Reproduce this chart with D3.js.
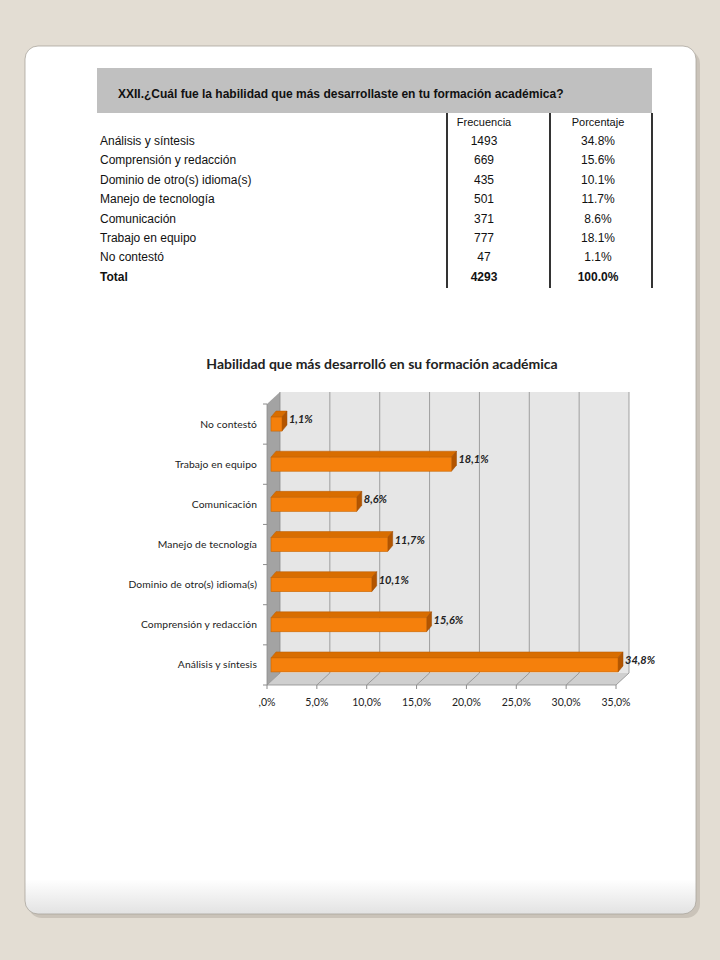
<!DOCTYPE html>
<html>
<head>
<meta charset="utf-8">
<script src="https://cdn.jsdelivr.net/npm/d3@7"></script>
<style>
  body { margin: 0; background: #e3ddd3; }
  svg { display: block; }
</style>
</head>
<body>
<div id="chart"></div>
<script>
var categories = ["Análisis y síntesis", "Comprensión y redacción", "Dominio de otro(s) idioma(s)",
  "Manejo de tecnología", "Comunicación", "Trabajo en equipo", "No contestó"];
var frecuencia = [1493, 669, 435, 501, 371, 777, 47];
var porcentaje = [34.8, 15.6, 10.1, 11.7, 8.6, 18.1, 1.1];
var totalFrec = 4293, totalPct = 100.0;
var xTicks = [0, 5, 10, 15, 20, 25, 30, 35];

var width = 720, height = 960;
var svg = d3.select("#chart").append("svg")
    .attr("width", width)
    .attr("height", height);

var defs = svg.append("defs");
var cardGrad = defs.append("linearGradient").attr("id", "cardGrad")
    .attr("x1", 0).attr("y1", 0).attr("x2", 0).attr("y2", 1);
cardGrad.append("stop").attr("offset", "0.96").attr("stop-color", "#ffffff");
cardGrad.append("stop").attr("offset", "1").attr("stop-color", "#e2e2e2");

// card
svg.append("rect").attr("x", 28).attr("y", 50).attr("width", 672).attr("height", 868)
    .attr("rx", 14).attr("fill", "#b9b2a8").attr("opacity", 0.6);
svg.append("rect").attr("x", 25).attr("y", 46).attr("width", 671).attr("height", 868)
    .attr("rx", 13).attr("fill", "url(#cardGrad)").attr("stroke", "#a9a49c").attr("stroke-width", 0.8);

// ---- table ----
var tbl = svg.append("g").style("font-family", "'Liberation Sans', Arial, sans-serif").style("font-size", "12px").attr("fill", "#111");
tbl.append("rect").attr("x", 97).attr("y", 68).attr("width", 555).attr("height", 45).attr("fill", "#c0c0c0");
tbl.append("text").attr("x", 118).attr("y", 98).style("font-weight", "bold").style("font-size", "12px")
    .text("XXII.¿Cuál fue la habilidad que más desarrollaste en tu formación académica?");

var colF = 484, colP = 598, rowH = 19.4, row0 = 145;
[447, 550, 652].forEach(function (x) {
  tbl.append("line").attr("x1", x).attr("x2", x).attr("y1", 113).attr("y2", 288)
      .attr("stroke", "#000").attr("stroke-width", 1.6);
});
tbl.append("text").attr("x", colF).attr("y", 126).attr("text-anchor", "middle").style("font-size", "11px").text("Frecuencia");
tbl.append("text").attr("x", colP).attr("y", 126).attr("text-anchor", "middle").style("font-size", "11px").text("Porcentaje");

var rows = tbl.selectAll(".row").data(categories).enter().append("g").attr("class", "row")
    .attr("transform", function (d, i) { return "translate(0," + (row0 + i * rowH) + ")"; });
rows.append("text").attr("x", 100).text(function (d) { return d; });
rows.append("text").attr("x", colF).attr("text-anchor", "middle").text(function (d, i) { return frecuencia[i]; });
rows.append("text").attr("x", colP).attr("text-anchor", "middle").text(function (d, i) { return porcentaje[i].toFixed(1) + "%"; });

var totY = row0 + categories.length * rowH;
tbl.append("text").attr("x", 100).attr("y", totY).style("font-weight", "bold").text("Total");
tbl.append("text").attr("x", colF).attr("y", totY).attr("text-anchor", "middle").style("font-weight", "bold").text(totalFrec);
tbl.append("text").attr("x", colP).attr("y", totY).attr("text-anchor", "middle").style("font-weight", "bold").text(totalPct.toFixed(1) + "%");

// ---- 3D bar chart ----
var chart = svg.append("g").style("font-family", "Lato, 'Open Sans', sans-serif");
chart.append("text").attr("x", 382).attr("y", 369).attr("text-anchor", "middle")
    .style("font-size", "14px").style("font-weight", "bold").attr("fill", "#222")
    .text("Habilidad que más desarrolló en su formación académica");

var x = d3.scaleLinear().domain([0, 35]).range([267, 616]);
var y = d3.scaleBand().domain(categories.slice().reverse()).range([404, 685]);
var dx = 13, dy = -12;      // depth of the back wall
var top0 = y.range()[0], bot0 = y.range()[1];

// back wall
chart.append("polygon")
    .attr("points", [[x(0) + dx, top0 + dy], [x(35) + dx, top0 + dy], [x(35) + dx, bot0 + dy], [x(0) + dx, bot0 + dy]].join(" "))
    .attr("fill", "#e6e6e6");
// left wall
chart.append("polygon")
    .attr("points", [[x(0), top0], [x(0) + dx, top0 + dy], [x(0) + dx, bot0 + dy], [x(0), bot0]].join(" "))
    .attr("fill", "#a3a3a3");
// floor
chart.append("polygon")
    .attr("points", [[x(0), bot0], [x(0) + dx, bot0 + dy], [x(35) + dx, bot0 + dy], [x(35), bot0]].join(" "))
    .attr("fill", "#cfcfcf");

// gridlines
chart.selectAll(".grid").data(xTicks).enter().append("polyline")
    .attr("points", function (d) { return [[x(d), bot0], [x(d) + dx, bot0 + dy], [x(d) + dx, top0 + dy]].join(" "); })
    .attr("fill", "none").attr("stroke", "#8c8c8c").attr("stroke-width", 0.8);

// axis lines
chart.append("line").attr("x1", x(0)).attr("x2", x(35)).attr("y1", bot0).attr("y2", bot0)
    .attr("stroke", "#8c8c8c").attr("stroke-width", 0.8);
chart.append("line").attr("x1", x(0)).attr("x2", x(0)).attr("y1", top0).attr("y2", bot0)
    .attr("stroke", "#8c8c8c").attr("stroke-width", 0.8);

// category ticks
var bandEdges = y.domain().map(function (d) { return y(d); }).concat([bot0]);
chart.selectAll(".ytick").data(bandEdges).enter().append("line")
    .attr("x1", x(0) - 4).attr("x2", x(0)).attr("y1", function (d) { return d; }).attr("y2", function (d) { return d; })
    .attr("stroke", "#8c8c8c");
chart.selectAll(".xtick").data(xTicks).enter().append("line")
    .attr("x1", function (d) { return x(d); }).attr("x2", function (d) { return x(d); })
    .attr("y1", bot0).attr("y2", bot0 + 4).attr("stroke", "#8c8c8c");

// category labels
chart.selectAll(".ylab").data(categories).enter().append("text")
    .attr("x", 257).attr("y", function (d) { return y(d) + y.bandwidth() / 2 + 3.5; })
    .attr("text-anchor", "end").style("font-size", "10.3px").style("letter-spacing", "0.1px").attr("fill", "#222")
    .text(function (d) { return d; });

// x labels
chart.selectAll(".xlab").data(xTicks).enter().append("text")
    .attr("x", function (d) { return x(d); }).attr("y", 706)
    .attr("text-anchor", "middle").style("font-size", "10.5px").attr("fill", "#222")
    .text(function (d) { return d === 0 ? ",0%" : d.toFixed(1).replace(".", ",") + "%"; });

// bars
var off = 4, bh = 14, bdx = 5, bdy = -6;
var bars = chart.selectAll(".bar").data(categories).enter().append("g").attr("class", "bar");
bars.each(function (d, i) {
  var g = d3.select(this);
  var x0 = x(0) + off, x1 = x(porcentaje[i]) + off;
  var yc = y(d) + y.bandwidth() / 2, y0 = yc - bh / 2, y1 = yc + bh / 2;
  g.append("polygon")
      .attr("points", [[x0, y0], [x0 + bdx, y0 + bdy], [x1 + bdx, y0 + bdy], [x1, y0]].join(" "))
      .attr("fill", "#d86d00").attr("stroke", "#b85a00").attr("stroke-width", 0.5);
  g.append("polygon")
      .attr("points", [[x1, y0], [x1 + bdx, y0 + bdy], [x1 + bdx, y1 + bdy], [x1, y1]].join(" "))
      .attr("fill", "#b35500").attr("stroke", "#994800").attr("stroke-width", 0.5);
  g.append("rect").attr("x", x0).attr("y", y0).attr("width", x1 - x0).attr("height", bh)
      .attr("fill", "#f5800c").attr("stroke", "#c96500").attr("stroke-width", 0.6);
  g.append("text").attr("x", x1 + bdx + 2).attr("y", yc - 1)
      .style("font-size", "11px").style("font-weight", "bold").style("font-style", "italic").attr("fill", "#222")
      .text(porcentaje[i].toFixed(1).replace(".", ",") + "%");
});
</script>
</body>
</html>
